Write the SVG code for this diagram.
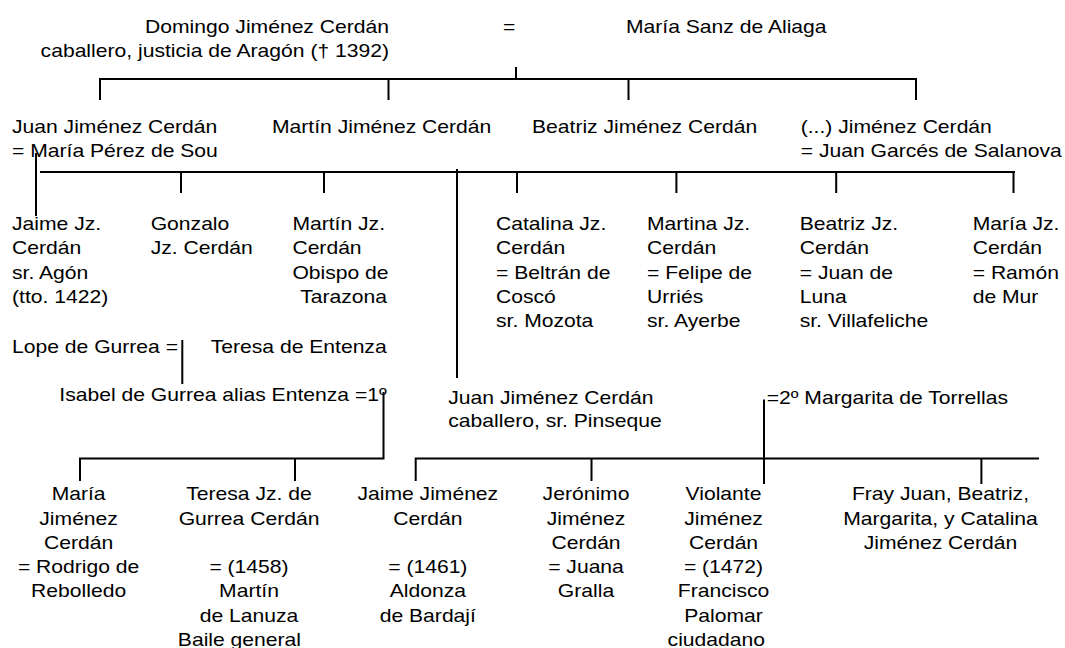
<svg xmlns="http://www.w3.org/2000/svg" width="1065" height="648" viewBox="0 0 1065 648">
<style>
.t{font-family:"Liberation Sans",Arial,sans-serif;font-size:17.6px;fill:#000}
.m{text-anchor:middle}
.e{text-anchor:end}
.c path{stroke:#000;stroke-width:2;fill:none}
</style>
<rect width="1065" height="648" fill="#fff"/>
<g id="connectors" class="c">
<path d="M516 67V79"/>
<path d="M100 100V79H916V100"/>
<path d="M388.5 79V100M628.5 79V100"/>
<path d="M40 172H1015"/>
<path d="M181 172V193M324 172V193M517 172V193M676.4 172V193M836.2 172V193M1013.5 172V193"/>
<path d="M36 153V216"/>
<path d="M457 169V378"/>
<path d="M182.3 340V384"/>
<path d="M80 481V458.5H383.5V392"/>
<path d="M295 458.5V481"/>
<path d="M415.7 481V458.5H1039"/>
<path d="M591.5 458.5V481M981.4 458.5V484"/>
<path d="M764 399.5V484"/>
</g>
<g id="n-domingo"><text class="t e" transform="matrix(1.2,0,0,1,389,33)"><tspan x="0">Domingo Jiménez Cerdán</tspan><tspan x="0" dy="24">caballero, justicia de Aragón († 1392)</tspan></text></g>
<g id="m-domingo-maria"><text class="t" transform="matrix(1.2,0,0,1,503,33)">=</text></g>
<g id="n-maria-sanz"><text class="t" transform="matrix(1.2,0,0,1,626,33)">María Sanz de Aliaga</text></g>
<g id="n-juan"><text class="t" transform="matrix(1.2,0,0,1,12,133)"><tspan x="0">Juan Jiménez Cerdán</tspan><tspan x="0" dy="24">= María Pérez de Sou</tspan></text></g>
<g id="n-martin"><text class="t" transform="matrix(1.2,0,0,1,272,133)">Martín Jiménez Cerdán</text></g>
<g id="n-beatriz"><text class="t" transform="matrix(1.2,0,0,1,532,133)">Beatriz Jiménez Cerdán</text></g>
<g id="n-anon"><text class="t" transform="matrix(1.2,0,0,1,800.7,133)"><tspan x="0">(...) Jiménez Cerdán</tspan><tspan x="0" dy="24">= Juan Garcés de Salanova</tspan></text></g>
<g id="n-jaime-jz"><text class="t" transform="matrix(1.2,0,0,1,12,230)"><tspan x="0">Jaime Jz.</tspan><tspan x="0" dy="24.3">Cerdán</tspan><tspan x="0" dy="24.3">sr. Agón</tspan><tspan x="0" dy="24.3">(tto. 1422)</tspan></text></g>
<g id="n-gonzalo"><text class="t" transform="matrix(1.2,0,0,1,150.7,230)"><tspan x="0">Gonzalo</tspan><tspan x="0" dy="24.3">Jz. Cerdán</tspan></text></g>
<g id="n-martin-jz"><text class="t" transform="matrix(1.2,0,0,1,292.4,230)"><tspan x="0">Martín Jz.</tspan><tspan x="0" dy="24.3">Cerdán</tspan><tspan x="0" dy="24.3">Obispo de</tspan><tspan x="6.5" dy="24.3">Tarazona</tspan></text></g>
<g id="n-catalina"><text class="t" transform="matrix(1.2,0,0,1,496,230)"><tspan x="0">Catalina Jz.</tspan><tspan x="0" dy="24.3">Cerdán</tspan><tspan x="0" dy="24.3">= Beltrán de</tspan><tspan x="0" dy="24.3">Coscó</tspan><tspan x="0" dy="24.3">sr. Mozota</tspan></text></g>
<g id="n-martina"><text class="t" transform="matrix(1.2,0,0,1,647,230)"><tspan x="0">Martina Jz.</tspan><tspan x="0" dy="24.3">Cerdán</tspan><tspan x="0" dy="24.3">= Felipe de</tspan><tspan x="0" dy="24.3">Urriés</tspan><tspan x="0" dy="24.3">sr. Ayerbe</tspan></text></g>
<g id="n-beatriz-jz"><text class="t" transform="matrix(1.2,0,0,1,799.7,230)"><tspan x="0">Beatriz Jz.</tspan><tspan x="0" dy="24.3">Cerdán</tspan><tspan x="0" dy="24.3">= Juan de</tspan><tspan x="0" dy="24.3">Luna</tspan><tspan x="0" dy="24.3">sr. Villafeliche</tspan></text></g>
<g id="n-maria-jz"><text class="t" transform="matrix(1.2,0,0,1,972.7,230)"><tspan x="0">María Jz.</tspan><tspan x="0" dy="24.3">Cerdán</tspan><tspan x="0" dy="24.3">= Ramón</tspan><tspan x="0" dy="24.3">de Mur</tspan></text></g>
<g id="n-lope"><text class="t" transform="matrix(1.2,0,0,1,12,352.7)">Lope de Gurrea =</text></g>
<g id="n-teresa-entenza"><text class="t" transform="matrix(1.2,0,0,1,210.7,352.7)">Teresa de Entenza</text></g>
<g id="n-isabel"><text class="t" transform="matrix(1.2,0,0,1,59.3,401)">Isabel de Gurrea alias Entenza =1º</text></g>
<g id="n-juan-pinseque"><text class="t" transform="matrix(1.2,0,0,1,448.3,403.5)"><tspan x="0">Juan Jiménez Cerdán</tspan><tspan x="0" dy="23.5">caballero, sr. Pinseque</tspan></text></g>
<g id="n-margarita"><text class="t" transform="matrix(1.2,0,0,1,766.7,403.5)">=2º Margarita de Torrellas</text></g>
<g id="n-maria-jimenez"><text class="t m" transform="matrix(1.2,0,0,1,78.6,500.3)"><tspan x="0">María</tspan><tspan x="0" dy="24.3">Jiménez</tspan><tspan x="0" dy="24.3">Cerdán</tspan><tspan x="0" dy="24.3">= Rodrigo de</tspan><tspan x="0" dy="24.3">Rebolledo</tspan></text></g>
<g id="n-teresa-jz"><text class="t m" transform="matrix(1.2,0,0,1,249,500.3)"><tspan x="0">Teresa Jz. de</tspan><tspan x="0" dy="24.3">Gurrea Cerdán</tspan><tspan x="0" dy="48.6">= (1458)</tspan><tspan x="0" dy="24.3">Martín</tspan><tspan x="0" dy="24.3">de Lanuza</tspan><tspan x="-8" dy="24.3">Baile general</tspan></text></g>
<g id="n-jaime-jimenez"><text class="t m" transform="matrix(1.2,0,0,1,427.8,500.3)"><tspan x="0">Jaime Jiménez</tspan><tspan x="0" dy="24.3">Cerdán</tspan><tspan x="0" dy="48.6">= (1461)</tspan><tspan x="0" dy="24.3">Aldonza</tspan><tspan x="0" dy="24.3">de Bardají</tspan></text></g>
<g id="n-jeronimo"><text class="t m" transform="matrix(1.2,0,0,1,586,500.3)"><tspan x="0">Jerónimo</tspan><tspan x="0" dy="24.3">Jiménez</tspan><tspan x="0" dy="24.3">Cerdán</tspan><tspan x="0" dy="24.3">= Juana</tspan><tspan x="0" dy="24.3">Gralla</tspan></text></g>
<g id="n-violante"><text class="t m" transform="matrix(1.2,0,0,1,723.5,500.3)"><tspan x="0">Violante</tspan><tspan x="0" dy="24.3">Jiménez</tspan><tspan x="0" dy="24.3">Cerdán</tspan><tspan x="0" dy="24.3">= (1472)</tspan><tspan x="0" dy="24.3">Francisco</tspan><tspan x="0" dy="24.3">Palomar</tspan><tspan x="-6" dy="24.3">ciudadano</tspan></text></g>
<g id="n-fray-juan"><text class="t m" transform="matrix(1.2,0,0,1,940.5,500.3)"><tspan x="0">Fray Juan, Beatriz,</tspan><tspan x="0" dy="24.3">Margarita, y Catalina</tspan><tspan x="0" dy="24.3">Jiménez Cerdán</tspan></text></g>
</svg>
